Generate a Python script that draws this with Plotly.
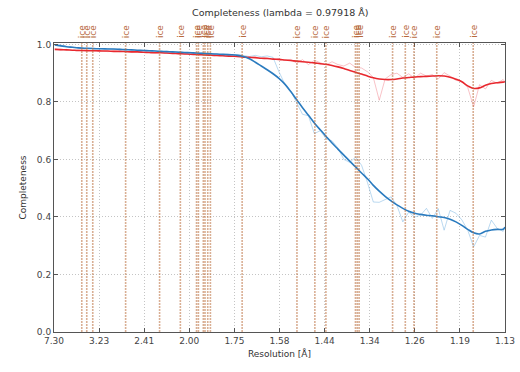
import plotly.graph_objects as go

# x positions as d*^2 = 1/d^2 (Å^-2)
d_star_sq = [0.02, 0.03, 0.04, 0.05, 0.06, 0.07, 0.08, 0.09, 0.10, 0.11, 0.12, 0.13, 0.14, 0.15,
             0.16, 0.17, 0.18, 0.19, 0.20, 0.21, 0.22, 0.23, 0.24, 0.25, 0.26, 0.27, 0.28, 0.29,
             0.30, 0.31, 0.32, 0.33, 0.34, 0.35, 0.36, 0.37, 0.38, 0.39, 0.40, 0.41, 0.42, 0.43,
             0.44, 0.45, 0.46, 0.47, 0.48, 0.49, 0.50, 0.51, 0.52, 0.53, 0.54, 0.55, 0.56, 0.57,
             0.58, 0.59, 0.60, 0.61, 0.62, 0.63, 0.64, 0.65, 0.66, 0.67, 0.68, 0.69, 0.70, 0.71,
             0.72, 0.73, 0.74, 0.75, 0.76, 0.77, 0.78, 0.783]

completeness_raw = [1.000, 0.998, 0.993, 0.990, 0.989, 0.985, 0.988, 0.986, 0.984, 0.986, 0.983, 0.984,
                    0.981, 0.982, 0.979, 0.980, 0.977, 0.978, 0.975, 0.976, 0.973, 0.975, 0.971, 0.973,
                    0.969, 0.971, 0.966, 0.968, 0.964, 0.967, 0.963, 0.965, 0.961, 0.958, 0.962, 0.957,
                    0.960, 0.955, 0.905, 0.862, 0.838, 0.795, 0.757, 0.752, 0.690, 0.700, 0.672, 0.665,
                    0.640, 0.600, 0.590, 0.608, 0.580, 0.520, 0.452, 0.451, 0.460, 0.470, 0.440, 0.383,
                    0.417, 0.400, 0.406, 0.430, 0.395, 0.429, 0.354, 0.423, 0.413, 0.390, 0.354, 0.296,
                    0.336, 0.330, 0.389, 0.360, 0.350, 0.365]

completeness_smooth = [0.998, 0.995, 0.992, 0.990, 0.988, 0.987, 0.986, 0.985, 0.985, 0.984, 0.984, 0.983,
                       0.982, 0.981, 0.980, 0.979, 0.978, 0.977, 0.976, 0.975, 0.974, 0.973, 0.972, 0.971,
                       0.970, 0.969, 0.968, 0.967, 0.966, 0.965, 0.964, 0.962, 0.958, 0.950, 0.938, 0.925,
                       0.912, 0.898, 0.882, 0.862, 0.836, 0.808, 0.780, 0.754, 0.727, 0.703, 0.680, 0.657,
                       0.636, 0.615, 0.594, 0.574, 0.553, 0.533, 0.510, 0.490, 0.472, 0.456, 0.442, 0.430,
                       0.420, 0.413, 0.409, 0.406, 0.404, 0.401, 0.398, 0.392, 0.383, 0.371, 0.357, 0.345,
                       0.341, 0.350, 0.355, 0.357, 0.357, 0.365]

anom_raw = [0.985, 0.980, 0.983, 0.979, 0.981, 0.977, 0.979, 0.977, 0.978, 0.975, 0.977, 0.975,
            0.976, 0.973, 0.975, 0.972, 0.973, 0.970, 0.972, 0.969, 0.970, 0.967, 0.968, 0.965,
            0.967, 0.963, 0.965, 0.961, 0.963, 0.959, 0.961, 0.957, 0.958, 0.955, 0.956, 0.951,
            0.953, 0.948, 0.950, 0.944, 0.948, 0.935, 0.947, 0.930, 0.945, 0.937, 0.928, 0.940,
            0.930, 0.925, 0.935, 0.920, 0.918, 0.905, 0.885, 0.806, 0.880, 0.895, 0.900, 0.885,
            0.898, 0.882, 0.900, 0.890, 0.895, 0.880, 0.902, 0.890, 0.875, 0.872, 0.850, 0.783,
            0.860, 0.845, 0.875, 0.865, 0.878, 0.870]

anom_smooth = [0.983, 0.982, 0.981, 0.980, 0.979, 0.979, 0.978, 0.978, 0.977, 0.977, 0.976, 0.976,
               0.975, 0.974, 0.974, 0.973, 0.972, 0.971, 0.971, 0.970, 0.969, 0.968, 0.967, 0.966,
               0.965, 0.964, 0.963, 0.962, 0.961, 0.960, 0.959, 0.958, 0.956, 0.955, 0.954, 0.952,
               0.951, 0.949, 0.948, 0.946, 0.944, 0.942, 0.940, 0.938, 0.936, 0.933, 0.931, 0.927,
               0.922, 0.916, 0.909, 0.903, 0.897, 0.890, 0.884, 0.880, 0.878, 0.878, 0.880, 0.883,
               0.885, 0.887, 0.888, 0.889, 0.890, 0.891, 0.890, 0.886, 0.879, 0.870, 0.856, 0.847,
               0.849, 0.858, 0.864, 0.867, 0.869, 0.870]

# Ice ring resolutions (Å)
ice_rings = [3.897, 3.669, 3.441, 2.671, 2.249, 2.072, 1.960, 1.948, 1.918, 1.908, 1.892, 1.877,
             1.721, 1.524, 1.473, 1.444, 1.374, 1.370, 1.366, 1.299, 1.276, 1.261, 1.224, 1.171]

tick_labels = ["7.30", "3.23", "2.41", "2.00", "1.75", "1.58", "1.44", "1.34", "1.26", "1.19", "1.13"]
x_min = 1 / 7.30 ** 2
x_max = 1 / 1.13 ** 2
tick_vals = [x_min + i * (x_max - x_min) / 10 for i in range(11)]

FONT = "DejaVu Sans"
fig = go.Figure()

fig.add_trace(go.Scatter(x=d_star_sq, y=anom_raw, mode="lines",
                         line=dict(color="rgba(240,120,130,0.45)", width=1), showlegend=False))
fig.add_trace(go.Scatter(x=d_star_sq, y=completeness_raw, mode="lines",
                         line=dict(color="rgba(120,180,225,0.5)", width=1), showlegend=False))
fig.add_trace(go.Scatter(x=d_star_sq, y=anom_smooth, mode="lines", line_shape="spline",
                         line=dict(color="#e8282e", width=1.6), showlegend=False))
fig.add_trace(go.Scatter(x=d_star_sq, y=completeness_smooth, mode="lines", line_shape="spline",
                         line=dict(color="#2a7bbf", width=1.6), showlegend=False))

for r in ice_rings:
    xv = 1 / r ** 2
    fig.add_vline(x=xv, line=dict(color="rgba(185,110,60,0.55)", width=1.6, dash="2px,1px"), layer="above")
    fig.add_annotation(x=xv, y=1, xref="x", yref="paper", text="ice", textangle=-90,
                       showarrow=False, yanchor="bottom", yshift=3,
                       font=dict(family=FONT, size=9, color="#b8693a"))

axis_common = dict(showline=True, linecolor="#555", linewidth=1, mirror="ticks",
                   ticks="inside", ticklen=4, tickcolor="#555", automargin=False,
                   showgrid=True, gridcolor="#c4c4c4", griddash="1px,2px", gridwidth=1,
                   zeroline=False, tickfont=dict(family=FONT, size=9, color="#444"))

fig.update_xaxes(range=[x_min, x_max], tickvals=tick_vals, ticktext=tick_labels,
                 title=dict(text="Resolution [Å]", font=dict(family=FONT, size=9, color="#333"), standoff=5),
                 **axis_common)
fig.update_yaxes(range=[0, 1.005], tickvals=[0, 0.2, 0.4, 0.6, 0.8, 1.0], tickformat=".1f",
                 title=dict(text="Completeness", font=dict(family=FONT, size=9, color="#333"), standoff=8),
                 **axis_common)

fig.update_layout(
    width=520, height=372,
    margin=dict(l=54, r=15, t=43, b=40, autoexpand=False),
    plot_bgcolor="white", paper_bgcolor="white",
    title=dict(text="Completeness (lambda = 0.97918 Å)", x=0.539, xanchor="center", y=0.975, yanchor="top",
               font=dict(family=FONT, size=9.5, color="#333")),
    showlegend=False,
)

fig.write_html("out.html")
